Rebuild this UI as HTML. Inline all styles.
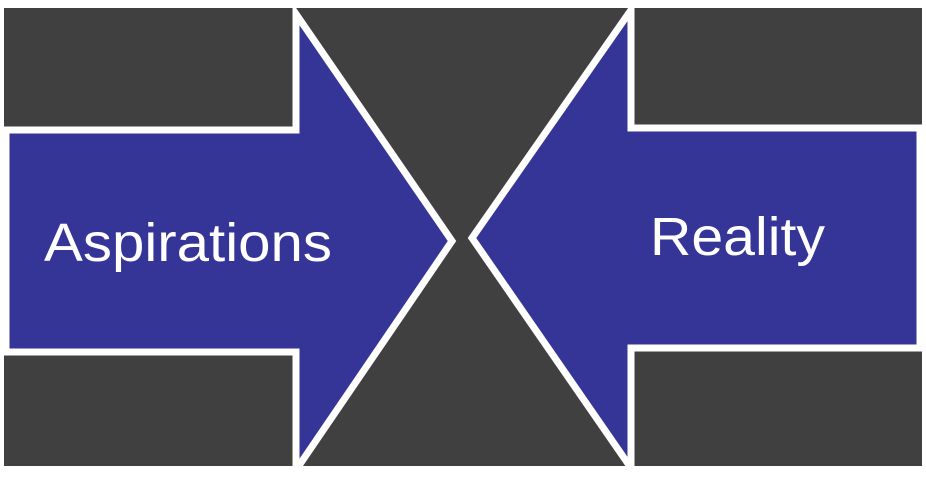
<!DOCTYPE html>
<html><head><style>html,body{margin:0;padding:0;background:#fff;}svg{display:block}</style></head>
<body>
<svg width="926" height="481" viewBox="0 0 926 481" xmlns="http://www.w3.org/2000/svg">
<defs><clipPath id="c"><rect x="4" y="8" width="918" height="458"/></clipPath></defs>
<rect x="4" y="8" width="918" height="458" fill="#404040"/>
<g clip-path="url(#c)" stroke="#fff" stroke-width="7" fill="#353598" stroke-linejoin="miter">
<polygon points="6,130 296,130 296,14 452,241 296,470 296,352 6,352"/>
<polygon points="920,128 631,128 631,10 472,238 631,468 631,348 920,348"/>
</g>
<g font-family="Liberation Sans, sans-serif" font-size="54" fill="#fff">
<text x="44" y="261" textLength="288" lengthAdjust="spacingAndGlyphs">Aspirations</text>
<text x="650" y="255" textLength="175" lengthAdjust="spacingAndGlyphs">Reality</text>
</g>
</svg>
</body></html>
